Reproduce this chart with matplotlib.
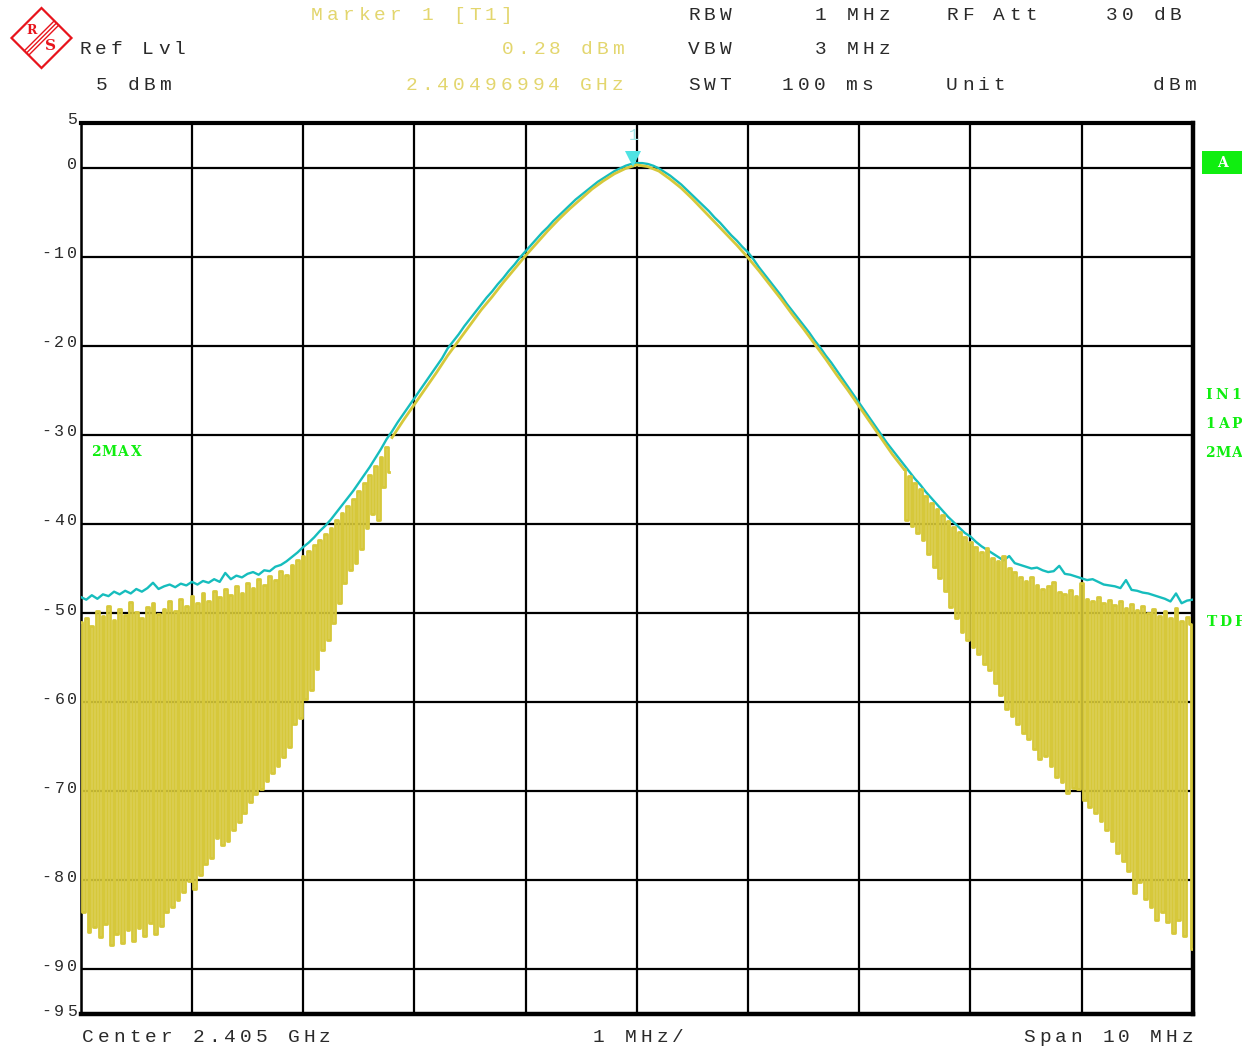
import numpy as np
import matplotlib
matplotlib.use('Agg')
import matplotlib.pyplot as plt
from matplotlib.transforms import offset_copy
from matplotlib.patches import Polygon, Rectangle
from matplotlib.lines import Line2D

W, H = 1248, 1048

# instrument settings (from the header)
center_ghz = 2.405
marker_ghz = 2.40496994
marker_dbm = 0.28

# trace 2: max hold (cyan), 0.05 MHz steps from -5 to +5 MHz
max_hold_db = [
    -48.2, -48.5, -48.0, -48.4, -47.9, -48.1, -47.6, -47.9, -47.5, -47.8,
    -47.3, -47.6, -47.2, -46.6, -47.3, -47.0, -46.8, -47.1, -46.7, -46.9,
    -46.5, -46.8, -46.4, -46.6, -46.2, -46.5, -45.5, -46.2, -45.8, -46.0,
    -45.6, -45.4, -45.7, -45.2, -45.3, -44.8, -44.6, -44.2, -43.7, -43.2,
    -42.6, -42.1, -41.5, -40.8, -40.2, -39.5, -38.7, -37.9, -37.1, -36.3,
    -35.4, -34.5, -33.6, -32.6, -31.6, -30.5, -29.6, -28.6, -27.7, -26.8,
    -25.9, -25.0, -24.1, -23.2, -22.3, -21.4, -20.3, -19.5, -18.7, -17.8,
    -17.0, -16.2, -15.4, -14.6, -13.9, -13.1, -12.4, -11.6, -10.9, -10.1,
    -9.4, -8.7, -8.0, -7.3, -6.7, -6.0, -5.4, -4.8, -4.2, -3.6,
    -3.1, -2.6, -2.1, -1.6, -1.2, -0.8, -0.4, -0.1, 0.2, 0.4,
    0.5,
    0.5, 0.4, 0.2, -0.1, -0.5, -0.9, -1.4, -1.9, -2.5, -3.1,
    -3.7, -4.3, -4.9, -5.6, -6.2, -6.9, -7.6, -8.2, -8.9, -9.5,
    -10.3, -11.2, -12.0, -12.8, -13.6, -14.4, -15.3, -16.1, -16.9, -17.7,
    -18.5, -19.4, -20.2, -21.1, -21.9, -22.8, -23.7, -24.6, -25.5, -26.4,
    -27.3, -28.2, -29.1, -30.0, -30.9, -31.7, -32.5, -33.3, -34.1, -34.9,
    -35.6, -36.4, -37.1, -37.8, -38.5, -39.2, -39.8, -40.4, -41.0, -41.4,
    -42.0, -42.5, -42.9, -43.3, -43.7, -44.1, -43.6, -44.4, -44.6, -44.8,
    -45.0, -44.9, -45.2, -45.4, -45.3, -44.7, -45.6, -45.7, -45.9, -46.1,
    -46.3, -46.2, -46.5, -46.8, -46.9, -47.0, -47.2, -46.3, -47.4, -47.5,
    -47.7, -47.8, -48.0, -48.2, -48.4, -48.7, -47.8, -48.9, -48.6, -48.5,
]
max_hold_f = np.linspace(-5, 5, len(max_hold_db))

# trace 1: clear write (yellow), lower skirt, 0.025 MHz steps
clrw_left_db = [
    -51.0, -83.5, -50.6, -85.8, -51.4, -85.2, -49.8, -86.4, -50.3, -84.9,
    -49.2, -87.2, -50.8, -86.0, -49.6, -87.0, -50.2, -85.6, -48.8, -86.8,
    -49.9, -85.3, -50.5, -86.3, -49.3, -84.8, -48.9, -86.0, -50.1, -85.1,
    -49.5, -83.6, -48.7, -83.0, -49.8, -82.2, -48.4, -81.3, -49.2, -80.1,
    -48.1, -81.0, -48.9, -79.4, -47.8, -78.2, -48.6, -77.5, -47.5, -75.2,
    -48.2, -76.0, -47.3, -75.6, -48.0, -74.3, -47.0, -73.5, -47.7, -72.4,
    -46.6, -71.2, -47.2, -70.3, -46.2, -69.8, -46.8, -68.9, -45.8, -67.9,
    -46.3, -67.2, -45.3, -66.1, -45.7, -65.0, -44.6, -62.5, -44.1, -61.8,
    -43.6, -59.7, -43.0, -58.6, -42.4, -56.3, -41.8, -54.1, -41.1, -53.0,
    -40.4, -51.1, -39.6, -48.9, -38.8, -46.6, -38.0, -45.2, -37.2, -44.4,
    -36.3, -42.8, -35.4, -40.5, -34.5, -38.9, -33.5, -39.6, -32.5, -35.8,
    -31.4, -34.2,
]
clrw_left_f = np.linspace(-5.0, -2.225, len(clrw_left_db))

# main lobe, 0.1 MHz steps
clrw_main_db = [
    -30.3, -28.4, -26.6, -24.8, -23.0, -21.1, -19.4, -17.7, -16.0, -14.5,
    -12.9, -11.4, -9.9, -8.5, -7.1, -5.8, -4.6, -3.5, -2.4, -1.5,
    -0.7, -0.1, 0.3, 0.1, -0.4, -1.3, -2.3, -3.5, -4.8, -6.1,
    -7.4, -8.7, -10.1, -11.6, -13.2, -14.8, -16.5, -18.1, -19.8, -21.5,
    -23.3, -25.0, -26.8, -28.6, -30.4, -32.2, -33.8,
]
clrw_main_f = np.linspace(-2.2, 2.4, len(clrw_main_db))

# upper skirt, 0.025 MHz steps
clrw_right_db = [
    -33.8, -39.6, -34.6, -40.2, -35.4, -41.0, -36.1, -41.8, -36.9, -43.4,
    -37.6, -44.8, -38.3, -46.1, -39.0, -47.5, -39.7, -49.3, -40.3, -50.6,
    -40.9, -52.1, -41.5, -53.0, -42.0, -53.8, -42.6, -54.6, -43.1, -55.7,
    -42.7, -56.4, -43.8, -57.8, -44.2, -59.2, -43.6, -60.8, -44.9, -61.6,
    -45.4, -62.4, -45.9, -63.5, -46.4, -64.1, -46.0, -65.3, -46.9, -66.4,
    -47.3, -66.0, -47.0, -67.2, -46.5, -68.4, -47.6, -69.0, -47.9, -70.2,
    -47.4, -69.6, -48.1, -69.8, -46.6, -71.0, -48.4, -71.8, -48.6, -72.4,
    -48.2, -73.3, -48.9, -74.3, -48.5, -75.6, -49.1, -76.9, -48.7, -77.8,
    -49.4, -79.0, -49.0, -81.4, -49.7, -80.2, -49.2, -82.1, -50.0, -83.0,
    -49.5, -84.4, -50.3, -83.6, -49.8, -84.7, -50.6, -85.9, -49.4, -84.4,
    -50.9, -86.2, -50.4, -51.2, -87.7,
]
clrw_right_f = np.linspace(2.4, 5.0, len(clrw_right_db))

y_grid = [0, -10, -20, -30, -40, -50, -60, -70, -80, -90]
y_labels = [5, 0, -10, -20, -30, -40, -50, -60, -70, -80, -90, -95]

YEL = '#D6C83A'
YTXT = '#E3D66E'
CYAN = '#16BDBD'
GREEN = '#10EE10'
DARK = '#2A2A2A'
MONO = 'Liberation Mono'

fig = plt.figure(figsize=(W / 100, H / 100), dpi=100)
fig.patch.set_facecolor('white')
ax = fig.add_axes([80.7 / W, 1 - 1014 / H, 1112 / W, 891 / H])


def spaced(s, x, y, color, size=14, pitch=15.8, ha='left', weight='normal', family=MONO, **kw):
    # R&S screen text: fixed wide character pitch, x/y in pixels from top-left
    if ha == 'right':
        x = x - pitch * len(s)
    for i, ch in enumerate(s):
        if ch == ' ':
            continue
        fig.text((x + pitch * (i + 0.5)) / W, 1 - y / H, ch, ha='center', va='center',
                 color=color, fontsize=size, fontweight=weight, family=family, **kw)


ax.plot(max_hold_f, max_hold_db, color=CYAN, lw=1.7, zorder=3)
ax.plot(clrw_left_f, clrw_left_db, color=YEL, lw=2.0, drawstyle='steps-mid', zorder=4)
ax.plot(clrw_main_f, clrw_main_db, color=YEL, lw=2.0, zorder=4)
ax.plot(clrw_right_f, clrw_right_db, color=YEL, lw=2.0, drawstyle='steps-mid', zorder=4)

# marker 1
mk_f = (marker_ghz - center_ghz) * 1000
ax.plot(mk_f, marker_dbm, marker='v', ms=11, color='#4FE3E3', mew=0,
        transform=offset_copy(ax.transData, fig=fig, y=6, units='dots'), zorder=6, clip_on=False)
ax.annotate('1', (mk_f, marker_dbm), xytext=(0, 30), textcoords='offset pixels',
            ha='center', va='center', color='#9FE6E6', fontsize=12, family=MONO)

ax.set_xlim(-5, 5)
ax.set_ylim(-95, 5)
ax.set_xticks(range(-5, 6))
ax.set_yticks(y_grid)
ax.grid(True, color='black', lw=1.6)
ax.tick_params(length=0, labelbottom=False, labelleft=False)
for side, lw in [('top', 3), ('right', 3.2), ('bottom', 3.2), ('left', 1.8)]:
    ax.spines[side].set_linewidth(lw)
    ax.spines[side].set_color('black')

# y labels
for v in y_labels:
    yp = H - ax.transData.transform((0, v))[1]
    spaced(str(v), 78, yp - 3, DARK, size=12, pitch=12.5, ha='right')

# header
spaced('Marker 1 [T1]', 309, 15, YTXT)
spaced('RBW', 686, 15, DARK)
spaced('1 MHz', 892, 15, DARK, ha='right')
spaced('RF Att', 944, 15, DARK)
spaced('30 dB', 1183, 15, DARK, ha='right')
spaced('Ref Lvl', 77, 50, DARK)
spaced('0.28 dBm', 626, 50, YTXT, ha='right')
spaced('VBW', 686, 50, DARK)
spaced('3 MHz', 892, 50, DARK, ha='right')
spaced('5 dBm', 94, 86, DARK)
spaced('2.40496994 GHz', 625, 86, YTXT, ha='right')
spaced('SWT', 686, 86, DARK)
spaced('100 ms', 780, 86, DARK)
spaced('Unit', 944, 86, DARK)
spaced('dBm', 1198, 86, DARK, ha='right')

# footer
spaced('Center 2.405 GHz', 80, 1038, DARK)
spaced('1 MHz/', 591, 1038, DARK)
spaced('Span 10 MHz', 1195, 1038, DARK, ha='right')

# side annotations
spaced('2MAX', 89, 452, GREEN, size=10, pitch=13.5, weight='bold', family='DejaVu Serif')
for lab, xp, yp in [('IN1', 1202, 395), ('1AP', 1203, 424), ('2MA', 1203, 453), ('TDF', 1205, 622)]:
    spaced(lab, xp, yp, GREEN, size=10, pitch=13.5, weight='bold', family='DejaVu Serif')
fig.patches.append(Rectangle((1242 / W, 0), 6 / W, 1, transform=fig.transFigure,
                             facecolor='white', edgecolor='none', zorder=20))
fig.patches.append(Rectangle((1202 / W, 1 - 174 / H), 40 / W, 23 / H, transform=fig.transFigure,
                             facecolor=GREEN, edgecolor='none', zorder=21))
fig.text(1222 / W, 1 - 163 / H, 'A', ha='center', va='center', color='white',
         fontsize=10, fontweight='bold', family='DejaVu Serif', zorder=22)

# R&S logo
RED = '#E8141C'
def px(x, y):
    return (x / W, 1 - y / H)
fig.patches.append(Polygon([px(41.5, 8), px(71.5, 38), px(41.5, 68), px(11.5, 38)], closed=True,
                           fill=False, edgecolor=RED, lw=1.6, transform=fig.transFigure))
for d in (-2.2, 0, 2.2):
    a = px(56.5 + d, 23 + d)
    b = px(26.5 + d, 53 + d)
    fig.lines.append(Line2D([a[0], b[0]], [a[1], b[1]], color=RED, lw=1.0, transform=fig.transFigure))
fig.text(*px(32, 31), 'R', ha='center', va='center', color=RED, fontsize=9, fontweight='bold',
         family='DejaVu Serif')
fig.text(*px(51, 46), 'S', ha='center', va='center', color=RED, fontsize=11, fontweight='bold',
         family='DejaVu Serif')

fig.savefig('out.png', dpi=100, facecolor='white')
